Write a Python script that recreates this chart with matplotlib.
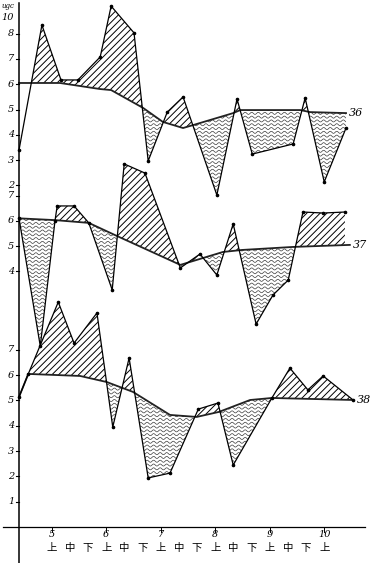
import numpy as np
import matplotlib.pyplot as plt
from matplotlib.path import Path
from matplotlib.patches import PathPatch
from matplotlib.collections import LineCollection

plt.rcParams['hatch.linewidth'] = 0.7

# x in months (5 = 5月上旬)
# year 36
x36 = [4.40, 4.82, 5.17, 5.48, 5.89, 6.09, 6.51, 6.77, 7.12, 7.41, 8.03, 8.40, 8.68, 9.43, 9.65, 10.00, 10.40]
v36 = [3.40, 8.34, 6.17, 6.17, 7.08, 9.09, 8.03, 2.97, 4.90, 5.50, 1.62, 5.42, 3.24, 3.64, 5.46, 2.14, 4.27]
nx36 = [4.40, 5.15, 5.89, 6.09, 6.68, 7.04, 7.41, 7.60, 8.33, 8.46, 9.56, 9.74, 10.40]
nv36 = [6.05, 6.05, 5.81, 5.77, 5.06, 4.51, 4.27, 4.39, 4.86, 4.98, 4.98, 4.90, 4.86]
# year 37
x37 = [4.40, 4.79, 5.06, 5.10, 5.41, 5.68, 6.11, 6.33, 6.71, 7.36, 7.72, 8.03, 8.33, 8.75, 9.06, 9.34, 9.61, 9.98, 10.38]
v37 = [6.10, 1.05, 6.00, 6.59, 6.59, 5.92, 3.27, 8.25, 7.89, 4.14, 4.69, 3.86, 5.88, 1.92, 3.07, 3.66, 6.35, 6.31, 6.35]
nx37 = [4.40, 5.06, 5.68, 6.22, 7.36, 8.14, 8.49, 9.43, 10.47]
nv37 = [6.10, 6.03, 5.92, 5.38, 4.26, 4.77, 4.85, 4.97, 5.05]
# year 38
x38 = [4.40, 4.57, 5.12, 5.41, 5.83, 6.12, 6.42, 6.77, 7.17, 7.69, 8.05, 8.33, 9.04, 9.37, 9.70, 9.98, 10.53]
v38 = [5.14, 6.05, 8.89, 7.27, 8.46, 3.95, 6.68, 1.94, 2.13, 4.66, 4.90, 2.45, 5.10, 6.28, 5.42, 5.97, 5.02]
nx38 = [4.40, 4.57, 5.52, 6.01, 6.49, 7.17, 7.66, 8.07, 8.64, 9.04, 10.53]
nv38 = [5.14, 6.05, 5.97, 5.73, 5.34, 4.43, 4.35, 4.55, 5.02, 5.10, 5.02]

names = ['36', '37', '38']
offsets = [11.5, 6.1, 0.0]
fill_start = [4.62, 4.40, 4.40]
ticks = [[2, 3, 4, 5, 6, 7, 8], [4, 5, 6, 7], [1, 2, 3, 4, 5, 6, 7]]

months = [5, 6, 7, 8, 9, 10]
dekads = ['上', '中', '下']

fig = plt.figure(figsize=(3.70, 5.63), dpi=100)
ax = fig.add_axes([0, 0, 1, 1])
ax.set_xlim(4.051, 10.84)
ax.set_ylim(-1.423, 20.83)
ax.axis('off')

x0 = 4.40
serif = dict(family='DejaVu Serif', style='italic', fontsize=7)

data = [(x36, v36, nx36, nv36), (x37, v37, nx37, nv37), (x38, v38, nx38, nv38)]
for k, (xs, vs, xn, vn) in enumerate(data):
    off = offsets[k]
    xs = np.array(xs); vs = np.array(vs); xn = np.array(xn); vn = np.array(vn)
    lo = max(xs[0], xn[0], fill_start[k]); hi = min(xs[-1], xn[-1])
    gx = np.union1d(np.union1d(xs, xn), np.linspace(lo, hi, 800))
    gx = gx[(gx >= lo) & (gx <= hi)]
    s = np.interp(gx, xs, vs) + off
    n = np.interp(gx, xn, vn) + off

    ax.fill_between(gx, s, n, where=s >= n, interpolate=True, facecolor='none',
                    edgecolor='black', hatch='/////', linewidth=0)
    poly = ax.fill_between(gx, s, n, where=s <= n, interpolate=True,
                           facecolor='none', edgecolor='none', linewidth=0)
    paths = [p for p in poly.get_paths() if len(p.vertices)]
    if paths:
        clip = PathPatch(Path.make_compound_path(*paths), transform=ax.transData,
                         fc='none', ec='none')
        ax.add_patch(clip)
        wx = np.linspace(x0, 10.7, 2500)
        segs = []
        for lvl in np.arange(off + 0.5, off + 7.0, 0.15):
            segs.append(np.column_stack([wx, lvl + 0.04 * np.sin(2 * np.pi * wx / 0.12)]))
        lc = LineCollection(segs, colors='#3a3a3a', linewidths=0.5)
        ax.add_collection(lc)
        lc.set_clip_path(clip)

    ax.plot(xn, vn + off, color='#222222', lw=1.3)
    ax.plot(xs, vs + off, color='black', lw=0.9, marker='o', ms=1.6)
    ax.text(xn[-1] + 0.06, vn[-1] + off, names[k], ha='left', va='center',
            family='DejaVu Serif', style='italic', fontsize=8)

    for t in ticks[k]:
        ax.plot([x0 - 0.05, x0], [t + off, t + off], color='black', lw=0.8)
        ax.text(x0 - 0.09, t + off, str(t), ha='right', va='center', **serif)

# top of the scale
ax.text(x0 - 0.09, 8.62 + offsets[0], '10', ha='right', va='center', **serif)
ax.text(x0 - 0.33, 20.6, 'ugc', ha='left', va='center', family='DejaVu Serif',
        style='italic', fontsize=5)

# axes
ax.axvline(x0, ymin=0.0, ymax=0.995, color='black', lw=1.1)
ax.axhline(0, xmin=3 / 370, xmax=365 / 370, color='black', lw=0.9)
for m in months:
    ax.plot([m, m], [0, -0.2], color='black', lw=0.7)
    ax.text(m, -0.3, str(m), ha='center', va='center', **serif)
    for j, d in enumerate(dekads):
        if m == 10 and j > 0:
            continue
        ax.text(m + j / 3, -0.82, d, ha='center', va='center',
                family='Noto Sans CJK SC', fontsize=7.5)

fig.savefig('out.png', dpi=100)
